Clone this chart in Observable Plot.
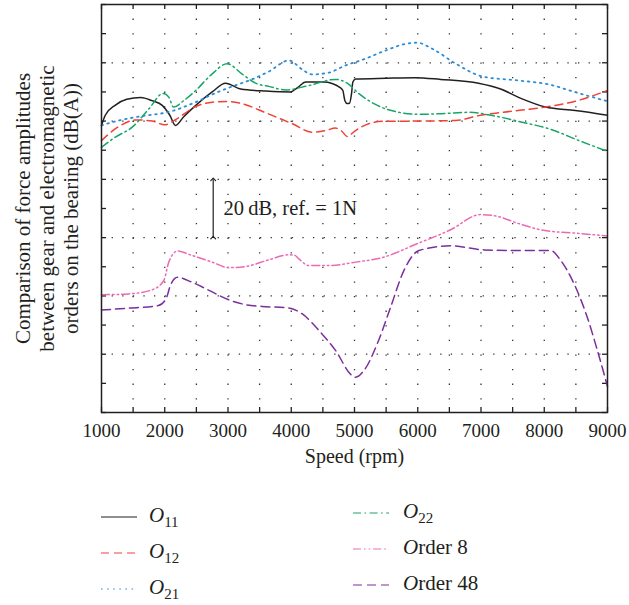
<!DOCTYPE html>
<html><head><meta charset="utf-8">
<script src="https://cdn.jsdelivr.net/npm/d3@7"></script>
<script src="https://cdn.jsdelivr.net/npm/@observablehq/plot@0.6"></script>
<style>
body{margin:0;background:#fff;}
#wrap{position:relative;width:629px;height:605px;font-family:"Liberation Serif",serif;color:#231f20;overflow:hidden}
#chart{position:absolute;left:0;top:0}
.leg{position:absolute;font-size:21px;line-height:21px;white-space:nowrap}
.leg sub{font-size:15px;vertical-align:-5px;line-height:0}
.sw{position:absolute}
</style>
</head><body>
<div id="wrap"><div id="chart"></div><div id="legend"></div></div>
<script>
// ---- data (speed in rpm, level in dB) ----
const o11Speed = [1000,1060,1220,1400,1620,1800,1960,2080,2170,2300,2490,2750,2960,3200,3600,3990,4100,4230,4510,4780,4816,4848,4885,4921,4953,4974,5016,5500,5960,6360,6960,7310,7650,8020,8490,9000];
const o11Level = [98.5,102,105.5,107.5,108.1,107,105.4,102,98.5,101.5,105.4,110,113,111,110.3,110,111.5,113.4,113.4,111.4,110.5,107,106,106.1,109.4,113.4,114.4,114.7,114.9,114.3,113,111,107.6,104.8,103.6,102];

const o12Speed = [1000,1250,1550,1800,2000,2170,2490,2750,2985,3220,3600,4015,4330,4550,4700,4800,4885,5000,5120,5440,5960,6600,6970,7335,8020,8490,9000];
const o12Level = [93.3,97.8,100.4,100,98.7,100.5,105,106.5,106.7,106,102.8,99.1,96.2,96.8,97.6,96.5,94.7,96.5,98.1,99.9,100,100.2,101.9,103,104.8,106.8,110.5];

const o21Speed = [1000,1220,1700,2040,2490,2800,2960,3145,3330,3645,3965,4180,4330,4590,4860,5170,5490,5810,5990,6230,6600,7020,7600,8070,8490,9000];
const o21Level = [98.5,99.9,101.9,103,106.5,109.6,111,112.5,113.9,117,120.8,117.6,116,116.6,119.1,121.4,124.2,126.5,126.9,124.8,119.7,115.3,113.9,112.6,109.9,106.8];

const o22Speed = [1000,1220,1485,1750,1975,2064,2140,2300,2490,2750,2985,3220,3435,3645,3910,4280,4700,4885,5070,5330,5700,6020,6330,6810,7180,7650,8070,8550,9000];
const o22Level = [91,94.5,97.9,104.2,109.5,108.2,104.8,107,110.5,116.2,119.7,116.2,113,111.9,110.7,112.2,114.3,113,109.4,105.7,103,102.3,102.5,103,101.9,99.6,97.4,93.3,89.6];

const ord8Speed = [1000,1430,1800,1985,2064,2200,2430,2750,3010,3280,3645,3960,4050,4120,4280,4590,5020,5460,5990,6520,6990,7260,7570,7990,8520,9000];
const ord8Level = [40.4,40.7,42.1,45.3,51.6,55.4,53.9,51.6,49.7,50.1,52.4,54.1,54,52.7,50.4,50.4,51.6,53.3,57.9,62.7,67.9,67.3,65,62.5,61.5,60.6];

const ord48Speed = [1000,1430,1900,2020,2090,2200,2430,2700,3010,3280,3540,3960,4170,4440,4700,4960,5020,5150,5360,5570,5780,6020,6520,7050,7570,8100,8260,8470,8680,8840,9000];
const ord48Level = [35.2,35.8,36.7,39,43.6,46.4,44.7,41.9,38.7,37,36.4,35.9,33.9,28.1,21.3,12.7,12.1,14.4,23.6,36.1,48.7,55.6,57.2,55.8,55.6,55.6,52.2,44.2,32.7,21.3,8.9];

const xTickLabels = [1000,2000,3000,4000,5000,6000,7000,8000,9000];
const xMinorTicks = d3.range(1000, 9001, 500);
const yMinorTicks = d3.range(0, 141, 10);
const yGridLevels = [20,40,60,80,100,120];
const refArrow = {speed:2766, from:60, to:80};
const refText = {speed:2930, level:70, text:"20\u2009dB, ref. = 1N"};
const yLabel = "Comparison of force amplitudes\nbetween gear and electromagnetic\norders on the bearing (dB(A))";
const xLabel = "Speed (rpm)";

// ---- styles ----
const series = [
  {speed:o11Speed, level:o11Level, stroke:"#231f20", dash:null, width:1.5},
  {speed:o12Speed, level:o12Level, stroke:"#ef4136", dash:"8,5", width:1.5},
  {speed:o21Speed, level:o21Level, stroke:"#2b8cd8", dash:"1.6,4.5", width:1.8},
  {speed:o22Speed, level:o22Level, stroke:"#16a667", dash:"8,3.5,1.6,3.5", width:1.5},
  {speed:ord8Speed, level:ord8Level, stroke:"#ec6ab4", dash:"8,3,1.6,3,1.6,3", width:1.5},
  {speed:ord48Speed, level:ord48Level, stroke:"#7a2f9c", dash:"9,5", width:1.5}
];

const font = "'Liberation Serif', serif";
const marks = [
  Plot.ruleX(xMinorTicks.slice(1,-1), {x:d=>d, stroke:"#333", strokeWidth:1.3, strokeDasharray:"1.3,13.3"}),
  Plot.ruleY(yGridLevels, {y:d=>d, stroke:"#333", strokeWidth:1.3, strokeDasharray:"1.3,9.3"}),
  Plot.tickX(xMinorTicks, {x:d=>d, insetTop:403, stroke:"#231f20", strokeWidth:1.3}),
  Plot.tickX(xMinorTicks, {x:d=>d, insetBottom:403, stroke:"#231f20", strokeWidth:1.3}),
  Plot.tickY(yMinorTicks, {y:d=>d, insetRight:501, stroke:"#231f20", strokeWidth:1.3}),
  Plot.tickY(yMinorTicks, {y:d=>d, insetLeft:501, stroke:"#231f20", strokeWidth:1.3}),
  ...series.map(s => Plot.line(s.speed.map((v,i)=>({x:v, y:s.level[i]})), {
    x:"x", y:"y", stroke:s.stroke, strokeWidth:s.width, strokeDasharray:s.dash, curve:"monotone-x"})),
  Plot.link([refArrow], {x1:"speed", x2:"speed", y1:"from", y2:"to", stroke:"#231f20", strokeWidth:1.2, markerStart:"arrow", markerEnd:"arrow"}),
  Plot.text([refText], {x:"speed", y:"level", text:"text", textAnchor:"start", fontSize:20.5, fill:"#231f20"}),
  Plot.text([yLabel], {text:d=>d, frameAnchor:"left", dx:-55, rotate:-90, textAnchor:"middle", lineAnchor:"middle", lineHeight:1.15, fontSize:21, fill:"#231f20"}),
  Plot.text([xLabel], {text:d=>d, frameAnchor:"bottom", dy:50, fontSize:20, fill:"#231f20"}),
  Plot.axisX(xTickLabels, {tickSize:0, tickPadding:11, tickFormat:"d", fontSize:19, label:null, fill:"#231f20"}),
  Plot.frame({stroke:"#231f20", strokeWidth:1.5})
];

const chart = Plot.plot({
  width:629, height:475,
  marginLeft:101, marginRight:22, marginTop:4, marginBottom:63,
  x:{domain:[1000,9000]},
  y:{domain:[0,140], axis:null},
  style:{fontFamily:font, fontSize:"19px", color:"#231f20", background:"#fff"},
  marks
});
document.getElementById("chart").appendChild(chart);

// ---- legend ----
const legendItems = [
  {s:0, label:'<i>O</i><sub>11</sub>', sx:101, y:517, lx:149},
  {s:1, label:'<i>O</i><sub>12</sub>', sx:101, y:553, lx:149},
  {s:2, label:'<i>O</i><sub>21</sub>', sx:101, y:589, lx:149},
  {s:3, label:'<i>O</i><sub>22</sub>', sx:353, y:513, lx:403},
  {s:4, label:'<i>O</i>rder 8', sx:353, y:549, lx:403},
  {s:5, label:'<i>O</i>rder 48', sx:353, y:585, lx:403}
];
const leg = document.getElementById("legend");
legendItems.forEach(it => {
  const s = series[it.s];
  const sw = document.createElementNS("http://www.w3.org/2000/svg","svg");
  sw.setAttribute("width",36); sw.setAttribute("height",10);
  sw.setAttribute("class","sw");
  sw.style.left = it.sx+"px"; sw.style.top = (it.y-5)+"px";
  const ln = document.createElementNS("http://www.w3.org/2000/svg","line");
  ln.setAttribute("x1",0); ln.setAttribute("x2",36); ln.setAttribute("y1",5); ln.setAttribute("y2",5);
  ln.setAttribute("stroke", s.stroke); ln.setAttribute("stroke-width", 1.2);
  if (s.dash) ln.setAttribute("stroke-dasharray", s.dash);
  sw.appendChild(ln);
  leg.appendChild(sw);
  const d = document.createElement("div");
  d.className = "leg";
  d.style.left = it.lx+"px"; d.style.top = (it.y-12)+"px";
  d.innerHTML = it.label;
  leg.appendChild(d);
});
</script>
</body></html>
